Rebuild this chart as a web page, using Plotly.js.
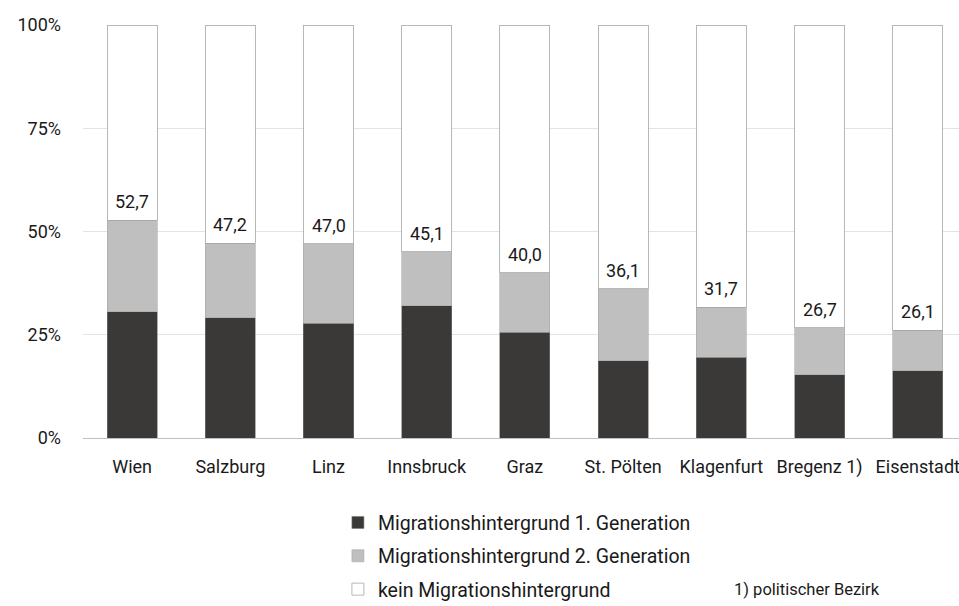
<!DOCTYPE html>
<html><head><meta charset="utf-8">
<script src="https://cdn.plot.ly/plotly-3.0.1.min.js"></script>
<style>html,body{margin:0;padding:0;background:#fff}#chart{width:959px;height:606px}</style>
</head><body><div id="chart"></div>
<script>
const categories = ["Wien","Salzburg","Linz","Innsbruck","Graz","St. Pölten","Klagenfurt","Bregenz 1)","Eisenstadt"];
const gen1 = [30.6,29.1,27.8,32.0,25.6,18.7,19.6,15.3,16.3];
const gen2 = [22.1,18.1,19.2,13.1,14.4,17.4,12.1,11.4,9.8];
const none = [47.3,52.8,53.0,54.9,60.0,63.9,68.3,73.3,73.9];
const totals = [52.7,47.2,47.0,45.1,40.0,36.1,31.7,26.7,26.1];
const totalLabels = ["52,7","47,2","47,0","45,1","40,0","36,1","31,7","26,7","26,1"];
const yTickVals = [0,25,50,75,100];
const yTickText = ["0%","25%","50%","75%","100%"];

const FONT = "Roboto, 'Noto Sans', sans-serif";
const traces = [
  {type:"bar", name:"Migrationshintergrund 1. Generation", x:categories, y:gen1,
   marker:{color:"#3a3937", line:{color:"#7a7a7a", width:0.6}}, legendgroup:"a", hoverinfo:"skip"},
  {type:"bar", name:"Migrationshintergrund 2. Generation", x:categories, y:gen2,
   marker:{color:"#bfbfbf", line:{color:"#a8a8a8", width:0.6}}, legendgroup:"b", hoverinfo:"skip"},
  {type:"bar", name:"kein Migrationshintergrund", x:categories, y:none,
   marker:{color:"#ffffff", line:{color:"#a6a6a6", width:0.8}}, legendgroup:"c", hoverinfo:"skip"}
];
const annotations = categories.map((c,i)=>({
  x:c, y:totals[i], xref:"x", yref:"y", text:totalLabels[i], showarrow:false,
  yanchor:"bottom", yshift:6, font:{family:FONT, size:18, color:"#1a1a1a"}
}));
annotations.push({xref:"paper", yref:"paper", x:0.826, y:-0.368, xanchor:"center", yanchor:"middle",
  text:"1) politischer Bezirk", showarrow:false, font:{family:FONT, size:16.5, color:"#1a1a1a"}});

const layout = {
  width:959, height:606,
  margin:{l:83, r:0, t:25, b:168, autoexpand:false},
  paper_bgcolor:"#fff", plot_bgcolor:"#fff",
  barmode:"stack", bargap:0.49,
  font:{family:FONT, size:18, color:"#1a1a1a"},
  xaxis:{type:"category", range:[-0.5,8.42], showgrid:false, zeroline:false,
    showline:true, linecolor:"#bfbfbf", linewidth:1, ticks:"", ticklabelstandoff:12,
    tickfont:{family:FONT, size:18, color:"#1a1a1a"}, fixedrange:true, automargin:false},
  yaxis:{range:[0,100], tickvals:yTickVals, ticktext:yTickText, showgrid:true,
    gridcolor:"#e3e3e3", gridwidth:1, zeroline:false, showline:false, ticks:"",
    ticklabelstandoff:21, tickfont:{family:FONT, size:18, color:"#1a1a1a"}, fixedrange:true, automargin:false},
  showlegend:true,
  legend:{orientation:"v", x:0.291, y:-0.158, xanchor:"left", yanchor:"top",
    traceorder:"grouped", tracegroupgap:5, font:{family:FONT, size:19.5, color:"#1a1a1a"},
    itemwidth:30, bgcolor:"rgba(0,0,0,0)"},
  annotations:annotations
};
Plotly.newPlot("chart", traces, layout, {displayModeBar:false, staticPlot:true});
</script></body></html>
